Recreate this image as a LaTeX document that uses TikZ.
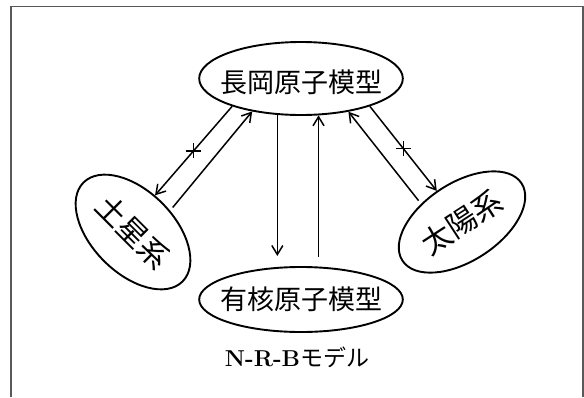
\documentclass[tikz,border=0pt]{standalone}
\usepackage{fontspec}
\newfontfamily\jpfont{Noto Sans CJK JP}
\usetikzlibrary{shapes.geometric, arrows.meta}

\begin{document}
\begin{tikzpicture}[x=1pt, y=-1pt,
    model/.style={draw, ellipse, line width=1.9pt, inner xsep=-9pt, inner ysep=0pt, font=\jpfont\fontsize{27}{30}\selectfont},
    system/.style={draw, ellipse, line width=1.9pt, inner sep=0pt, minimum width=140pt, minimum height=82pt, font=\jpfont\fontsize{30}{33}\selectfont},
    link/.style={-{Straight Barb[length=9pt, width=11pt]}, line width=1.5pt}]
    \useasboundingbox (0,0) rectangle (584,397);
    \draw[black!65, line width=1.3pt] (11,397) -- (11,6.7) -- (583,6.7) -- (583,397);
    \node (nagaoka) [model, minimum height=73pt, text height=31.8pt, text depth=3.2pt] at (301,78.5) {長岡原子模型};
    \node (nuclear) [model, minimum height=65pt] at (301,299.5) {有核原子模型};
    \node (saturn) [system, rotate=-45] at (133,232) {土星系};
    \node (sun) [system, minimum width=142pt, minimum height=78pt, rotate=33] at (462,222) {太陽系};
    \node (nrb) [font=\fontsize{23}{27}\selectfont] at (297,357) {\textbf{N-R-B}{\jpfont モデル}};
    \draw[link] (nagaoka.202) -- coordinate (cut1) (saturn.104);
    \draw[link, shorten <=4pt] (saturn.75) -- (nagaoka.214);
    \draw[link, shorten >=11pt] (nagaoka.237) -- (nagaoka.237 |- nuclear.126);
    \draw[link, shorten <=10pt] (nuclear.62) -- (nuclear.62 |- nagaoka.296);
    \draw[link, shorten <=4pt] (sun.123) -- (nagaoka.325);
    \draw[link] (nagaoka.338) -- coordinate (cut2) (sun.96);
    \draw[line width=1.5pt] (cut1) +(-7.5,0) -- +(7.5,0) +(0,-7.5) -- +(0,7.5);
    \draw[line width=1.5pt] (cut2) +(-7.5,0) -- +(7.5,0) +(0,-7.5) -- +(0,7.5);
  \end{tikzpicture}
\end{document}
